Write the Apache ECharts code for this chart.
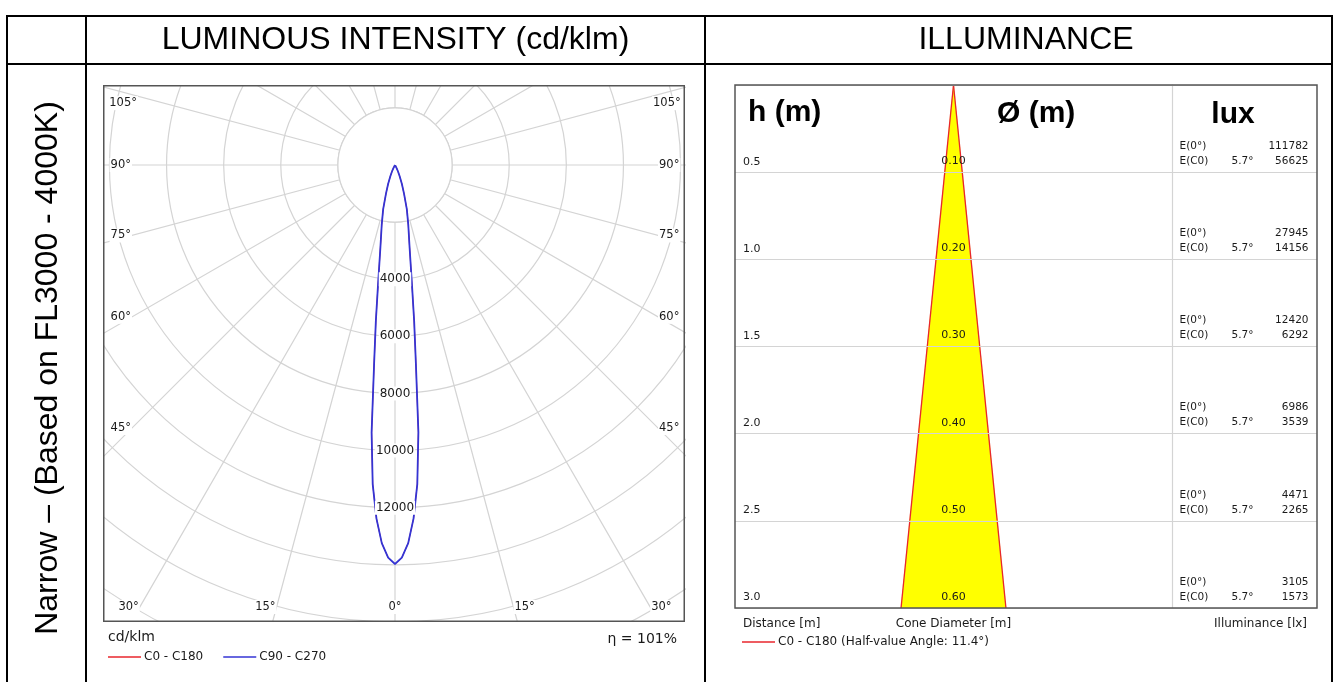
<!DOCTYPE html>
<html><head><meta charset="utf-8">
<script src="https://cdn.jsdelivr.net/npm/echarts@6/dist/echarts.min.js"></script>
<style>
html,body{margin:0;padding:0;background:#fff;width:1338px;height:682px;overflow:hidden;}
#main{position:absolute;left:0;top:0;width:1338px;height:682px;}
#polar{position:absolute;left:103px;top:85px;width:583px;height:580px;}
</style></head><body>
<div id="main"></div><div id="polar"></div>
<script>
// ---------------- data ----------------
const polarAngles      = [0, 1, 2, 3, 4, 5, 6, 7, 8, 9, 10, 12.5, 15, 17.5, 20, 22.5, 25, 27.5, 30, 35, 40, 50, 60, 70, 80, 90];
const intensityC0C180  = [13972, 13750, 13250, 12400, 11200, 9400, 7000, 5500, 4300, 3500, 2950, 2150, 1600, 1050, 700, 420, 250, 130, 60, 15, 0, 0, 0, 0, 0, 0];
const intensityC90C270 = [13972, 13750, 13250, 12400, 11200, 9400, 7000, 5500, 4300, 3500, 2950, 2150, 1600, 1050, 700, 420, 250, 130, 60, 15, 0, 0, 0, 0, 0, 0];
const ringLabels = [4000, 6000, 8000, 10000, 12000];
const sideAngleLabels = [45, 60, 75, 90, 105];
const bottomAngleLabels = [0, 15, 30];
const efficiency = 101;

const distances     = [0.5, 1.0, 1.5, 2.0, 2.5, 3.0];
const coneDiameters = [0.10, 0.20, 0.30, 0.40, 0.50, 0.60];
const illumCentre   = [111782, 27945, 12420, 6986, 4471, 3105];
const illumC0       = [56625, 14156, 6292, 3539, 2265, 1573];
const halfAngle     = 5.7;

// ---------------- styles ----------------
const F = "'DejaVu Sans', Verdana, sans-serif";
const A = "'Liberation Sans', Arial, sans-serif";
const GRID = '#d4d4d4';
const RED = '#e8262d', BLUE = '#3434d4';
const TXT = '#1a1a1a';
const HIDDEN = { color: 'rgba(0,0,0,0)', opacity: 1 };

// ---------------- polar chart ----------------
const RMAX = 18000, RPX = 514, CX = 292, CY = 80, BOXW = 582, BOXH = 537;
const k = RMAX / RPX;
function lobe(vals) {
  const left = polarAngles.map((a, i) => [vals[i], a]).reverse();
  const right = polarAngles.map((a, i) => [vals[i], -a]).slice(1);
  return left.concat(right);
}
const angleLabelData = [];
sideAngleLabels.forEach(t => {
  const D = t === 105 ? 257 : 263;
  const r = D * k / Math.sin(t * Math.PI / 180);
  const off = t === 105 ? [0, 7] : [0, 0];
  angleLabelData.push({ value: [r, t], label: { align: 'right', offset: off }, name: t + '°' });
  angleLabelData.push({ value: [r, -t], label: { align: 'left', offset: off }, name: t + '°' });
});
bottomAngleLabels.forEach(t => {
  const r = 442 * k / Math.cos(t * Math.PI / 180);
  if (t === 0) angleLabelData.push({ value: [r, 0], label: { align: 'center' }, name: '0°' });
  else {
    angleLabelData.push({ value: [r, t], label: { align: 'right' }, name: t + '°' });
    angleLabelData.push({ value: [r, -t], label: { align: 'left' }, name: t + '°' });
  }
});

const polarChart = echarts.init(document.getElementById('polar'));
polarChart.setOption({
  animation: false,
  polar: { center: [CX, CY], radius: RPX },
  angleAxis: {
    type: 'value', min: -180, max: 180, interval: 15, startAngle: 90, clockwise: true,
    axisLine: { show: false }, axisTick: { show: false }, axisLabel: { show: false },
    splitLine: { show: true, lineStyle: { color: GRID, width: 1.2 } }
  },
  radiusAxis: {
    type: 'value', min: 0, max: RMAX, interval: 2000,
    axisLine: { show: false }, axisTick: { show: false }, axisLabel: { show: false },
    splitLine: { show: true, lineStyle: { color: GRID, width: 1.2 } }
  },
  legend: {
    data: ['C0 - C180', 'C90 - C270'], left: 0, top: 561, icon: 'rect',
    itemWidth: 33, itemHeight: 1.5, itemGap: 20, selectedMode: false, z: 60,
    textStyle: { fontFamily: F, fontSize: 12, color: TXT, padding: [0, 0, 0, -2] }
  },
  series: [
    {
      type: 'custom', coordinateSystem: 'polar', z: 1, silent: true,
      data: [[2000, 0]],
      renderItem: (params, api) => {
        const c = api.coord([0, 0]);
        const p = api.coord([api.value(0), 0]);
        const r = Math.hypot(p[0] - c[0], p[1] - c[1]);
        return { type: 'circle', shape: { cx: c[0], cy: c[1], r }, style: { fill: '#fff', stroke: GRID, lineWidth: 1.2 } };
      }
    },
    { name: 'C0 - C180', type: 'line', coordinateSystem: 'polar', z: 2, showSymbol: false,
      data: lobe(intensityC0C180), itemStyle: { color: RED }, lineStyle: { color: RED, width: 1 } },
    { name: 'C90 - C270', type: 'line', coordinateSystem: 'polar', z: 3, showSymbol: false,
      data: lobe(intensityC90C270), itemStyle: { color: BLUE }, lineStyle: { color: BLUE, width: 1.8 } },
    {
      type: 'scatter', coordinateSystem: 'polar', z: 5, symbolSize: 1, itemStyle: HIDDEN, silent: true,
      data: ringLabels.map(v => [v, 0]),
      label: { show: true, position: 'inside', formatter: p => String(p.value[0]),
        fontFamily: F, fontSize: 12, color: TXT, backgroundColor: '#fff', padding: [1, 1] }
    },
    {
      type: 'scatter', coordinateSystem: 'polar', z: 5, symbolSize: 1, itemStyle: HIDDEN, silent: true,
      data: angleLabelData,
      label: { show: true, position: 'inside', formatter: p => p.name, verticalAlign: 'middle',
        fontFamily: F, fontSize: 11.5, color: TXT, backgroundColor: '#fff', padding: [1, 1] }
    }
  ],
  graphic: [
    { type: 'rect', z: 50, shape: { x: -2, y: BOXH, width: 600, height: 60 }, style: { fill: '#fff' } },
    { type: 'rect', z: 55, shape: { x: 0.75, y: 0.75, width: BOXW - 1.5, height: BOXH - 1.5 }, style: { fill: 'none', stroke: '#555', lineWidth: 1.5 } },
    { type: 'text', z: 60, x: 5, y: 552, style: { text: 'cd/klm', font: '14px ' + F, fill: TXT, align: 'left', verticalAlign: 'middle' } },
    { type: 'text', z: 60, x: 574, y: 554, style: { text: 'η = ' + efficiency + '%', font: '14px ' + F, fill: TXT, align: 'right', verticalAlign: 'middle' } }
  ]
});

// ---------------- main chart ----------------
const coneName = 'C0 - C180 (Half-value Angle: ' + (2 * halfAngle).toFixed(1) + '°)';
const mainChart = echarts.init(document.getElementById('main'));
mainChart.setOption({
  animation: false,
  grid: [
    { left: 735, top: 85, width: 437, height: 523 },
    { left: 1172, top: 85, width: 145, height: 523 }
  ],
  xAxis: [
    { gridIndex: 0, type: 'value', min: -1.25, max: 1.25, show: false },
    { gridIndex: 1, type: 'value', min: 0, max: 1, show: false }
  ],
  yAxis: [
    { gridIndex: 0, type: 'value', min: 0, max: 3, interval: 0.5, inverse: true, z: 3,
      axisLine: { show: false }, axisTick: { show: false },
      splitLine: { show: true, lineStyle: { color: GRID, width: 1.2 } },
      axisLabel: { inside: true, margin: 8, verticalAlign: 'bottom', padding: [0, 0, 5, 0],
        formatter: v => v === 0 ? '' : v.toFixed(1), fontFamily: F, fontSize: 11, color: TXT } },
    { gridIndex: 1, type: 'value', min: 0, max: 3, interval: 0.5, inverse: true, z: 3,
      axisLine: { show: true, lineStyle: { color: GRID, width: 1.2 } }, axisTick: { show: false },
      splitLine: { show: true, lineStyle: { color: GRID, width: 1.2 } }, axisLabel: { show: false } }
  ],
  legend: {
    data: [coneName], left: 737, top: 631, icon: 'rect', itemWidth: 33, itemHeight: 1.5,
    selectedMode: false, textStyle: { fontFamily: F, fontSize: 12, color: TXT, padding: [0, 0, 0, -2] }
  },
  series: [
    {
      type: 'custom', name: coneName, xAxisIndex: 0, yAxisIndex: 0, z: 2, silent: true,
      itemStyle: { color: RED },
      data: distances.map((h, i) => [h, coneDiameters[i]]),
      renderItem: (params, api) => {
        const i = params.dataIndex;
        const h = api.value(0), d = api.value(1);
        const h0 = i === 0 ? 0 : distances[i - 1];
        const d0 = i === 0 ? 0 : coneDiameters[i - 1];
        const l0 = api.coord([-d0 / 2, h0]), r0 = api.coord([d0 / 2, h0]);
        const l1 = api.coord([-d / 2, h]), r1 = api.coord([d / 2, h]);
        return { type: 'group', children: [
          { type: 'polygon', shape: { points: [l0, r0, r1, l1] }, style: { fill: '#ffff00', stroke: '#ffff00', lineWidth: 0.5 } },
          { type: 'line', shape: { x1: l0[0], y1: l0[1], x2: l1[0], y2: l1[1] }, style: { stroke: RED, lineWidth: 1.3 } },
          { type: 'line', shape: { x1: r0[0], y1: r0[1], x2: r1[0], y2: r1[1] }, style: { stroke: RED, lineWidth: 1.3 } }
        ] };
      }
    },
    {
      type: 'scatter', xAxisIndex: 0, yAxisIndex: 0, z: 4, symbolSize: 1, itemStyle: HIDDEN, silent: true,
      data: distances.map((h, i) => [0, h, coneDiameters[i]]),
      label: { show: true, position: 'top', distance: 5, formatter: p => p.value[2].toFixed(2),
        fontFamily: F, fontSize: 11, color: TXT }
    },
    {
      type: 'scatter', xAxisIndex: 1, yAxisIndex: 1, z: 4, symbolSize: 1, itemStyle: HIDDEN, silent: true,
      data: distances.map((h, i) => [0, h, illumCentre[i], illumC0[i]]),
      label: {
        show: true, position: [8, -3], align: 'left', verticalAlign: 'bottom', width: 129,
        formatter: p => '{a|E(0°)}{c|' + p.value[2] + '}\n{a|E(C0)}{b|' + halfAngle + '°}{c|' + p.value[3] + '}',
        rich: {
          a: { width: 52, align: 'left', fontFamily: F, fontSize: 10.5, lineHeight: 15, color: TXT },
          b: { width: 20, align: 'left', fontFamily: F, fontSize: 10.5, lineHeight: 15, color: TXT },
          c: { align: 'right', fontFamily: F, fontSize: 10.5, lineHeight: 15, color: TXT }
        }
      }
    }
  ],
  graphic: [
    { type: 'rect', z: 10, shape: { x: 7, y: 16, width: 1325, height: 700 }, style: { fill: 'none', stroke: '#000', lineWidth: 2 } },
    { type: 'line', z: 10, shape: { x1: 7, y1: 64, x2: 1332, y2: 64 }, style: { stroke: '#000', lineWidth: 2 } },
    { type: 'line', z: 10, shape: { x1: 86, y1: 16, x2: 86, y2: 700 }, style: { stroke: '#000', lineWidth: 2 } },
    { type: 'line', z: 10, shape: { x1: 705, y1: 16, x2: 705, y2: 700 }, style: { stroke: '#000', lineWidth: 2 } },
    { type: 'text', z: 10, x: 395.5, y: 40, style: { text: 'LUMINOUS INTENSITY (cd/klm)', font: '32px ' + A, fill: '#000', align: 'center', verticalAlign: 'middle' } },
    { type: 'text', z: 10, x: 1026, y: 40, style: { text: 'ILLUMINANCE', font: '32px ' + A, fill: '#000', align: 'center', verticalAlign: 'middle' } },
    { type: 'text', z: 10, x: 48, y: 368, rotation: Math.PI / 2, style: { text: 'Narrow – (Based on FL3000 - 4000K)', font: '32px ' + A, fill: '#000', align: 'center', verticalAlign: 'middle' } },
    { type: 'rect', z: 10, shape: { x: 735, y: 85, width: 582, height: 523 }, style: { fill: 'none', stroke: '#555', lineWidth: 1.5 } },
    { type: 'text', z: 10, x: 748, y: 113, style: { text: 'h (m)', font: 'bold 30px ' + A, fill: '#000', align: 'left', verticalAlign: 'middle' } },
    { type: 'text', z: 10, x: 997, y: 114, style: { text: 'Ø (m)', font: 'bold 30px ' + A, fill: '#000', align: 'left', verticalAlign: 'middle' } },
    { type: 'text', z: 10, x: 1233, y: 115, style: { text: 'lux', font: 'bold 30px ' + A, fill: '#000', align: 'center', verticalAlign: 'middle' } },
    { type: 'text', z: 10, x: 743, y: 624, style: { text: 'Distance [m]', font: '12px ' + F, fill: TXT, align: 'left', verticalAlign: 'middle' } },
    { type: 'text', z: 10, x: 953.5, y: 624, style: { text: 'Cone Diameter [m]', font: '12px ' + F, fill: TXT, align: 'center', verticalAlign: 'middle' } },
    { type: 'text', z: 10, x: 1307, y: 624, style: { text: 'Illuminance [lx]', font: '12px ' + F, fill: TXT, align: 'right', verticalAlign: 'middle' } }
  ]
});
</script>
</body></html>
